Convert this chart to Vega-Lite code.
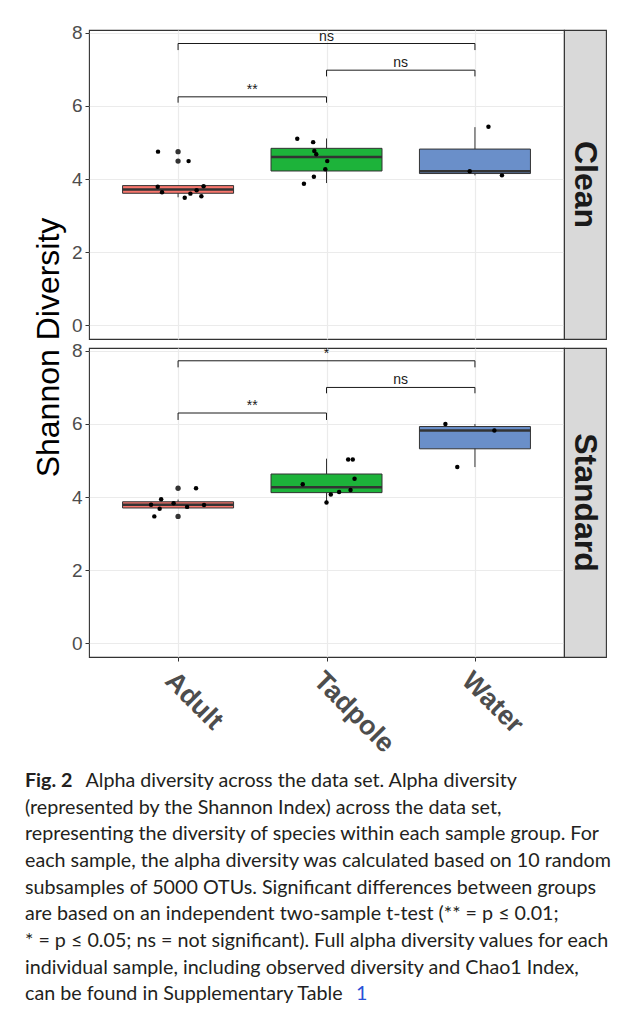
{
  "$schema": "https://vega.github.io/schema/vega-lite/v6.json",
  "background": "white",
  "padding": {"left": 25, "top": 23, "right": 5, "bottom": 5},
  "config": {
    "font": "Liberation Sans",
    "view": {"stroke": "#333333", "strokeWidth": 1.1},
    "axis": {"domain": false}
  },
  "datasets": {
    "boxes": [
      {"facet": "Clean", "group": "Adult", "lower": 3.50, "q1": 3.61, "median": 3.71, "q3": 3.82, "upper": 3.82},
      {"facet": "Clean", "group": "Tadpole", "lower": 3.89, "q1": 4.22, "median": 4.60, "q3": 4.84, "upper": 5.11},
      {"facet": "Clean", "group": "Water", "lower": 4.10, "q1": 4.15, "median": 4.21, "q3": 4.82, "upper": 5.42},
      {"facet": "Standard", "group": "Adult", "lower": 3.70, "q1": 3.70, "median": 3.79, "q3": 3.87, "upper": 3.93},
      {"facet": "Standard", "group": "Tadpole", "lower": 3.85, "q1": 4.12, "median": 4.27, "q3": 4.63, "upper": 5.05},
      {"facet": "Standard", "group": "Water", "lower": 4.82, "q1": 5.32, "median": 5.82, "q3": 5.93, "upper": 6.00}
    ],
    "points": [
      {"facet": "Clean", "group": "Adult", "jit": -0.135, "value": 4.75},
      {"facet": "Clean", "group": "Adult", "jit": 0.071, "value": 4.49},
      {"facet": "Clean", "group": "Adult", "jit": -0.137, "value": 3.79},
      {"facet": "Clean", "group": "Adult", "jit": -0.108, "value": 3.64},
      {"facet": "Clean", "group": "Adult", "jit": 0.045, "value": 3.49},
      {"facet": "Clean", "group": "Adult", "jit": 0.083, "value": 3.60},
      {"facet": "Clean", "group": "Adult", "jit": 0.125, "value": 3.69},
      {"facet": "Clean", "group": "Adult", "jit": 0.157, "value": 3.53},
      {"facet": "Clean", "group": "Adult", "jit": 0.172, "value": 3.80},
      {"facet": "Clean", "group": "Tadpole", "jit": -0.197, "value": 5.10},
      {"facet": "Clean", "group": "Tadpole", "jit": -0.090, "value": 5.01},
      {"facet": "Clean", "group": "Tadpole", "jit": -0.082, "value": 4.77},
      {"facet": "Clean", "group": "Tadpole", "jit": -0.069, "value": 4.68},
      {"facet": "Clean", "group": "Tadpole", "jit": 0.005, "value": 4.49},
      {"facet": "Clean", "group": "Tadpole", "jit": -0.008, "value": 4.27},
      {"facet": "Clean", "group": "Tadpole", "jit": -0.085, "value": 4.06},
      {"facet": "Clean", "group": "Tadpole", "jit": -0.152, "value": 3.87},
      {"facet": "Clean", "group": "Water", "jit": 0.091, "value": 5.43},
      {"facet": "Clean", "group": "Water", "jit": -0.035, "value": 4.21},
      {"facet": "Clean", "group": "Water", "jit": 0.182, "value": 4.10},
      {"facet": "Standard", "group": "Adult", "jit": 0.121, "value": 4.24},
      {"facet": "Standard", "group": "Adult", "jit": -0.114, "value": 3.94},
      {"facet": "Standard", "group": "Adult", "jit": -0.182, "value": 3.79},
      {"facet": "Standard", "group": "Adult", "jit": -0.124, "value": 3.68},
      {"facet": "Standard", "group": "Adult", "jit": -0.030, "value": 3.83},
      {"facet": "Standard", "group": "Adult", "jit": 0.061, "value": 3.73},
      {"facet": "Standard", "group": "Adult", "jit": 0.175, "value": 3.78},
      {"facet": "Standard", "group": "Adult", "jit": -0.160, "value": 3.47},
      {"facet": "Standard", "group": "Tadpole", "jit": -0.160, "value": 4.35},
      {"facet": "Standard", "group": "Tadpole", "jit": 0.000, "value": 3.85},
      {"facet": "Standard", "group": "Tadpole", "jit": 0.029, "value": 4.07},
      {"facet": "Standard", "group": "Tadpole", "jit": 0.085, "value": 4.14},
      {"facet": "Standard", "group": "Tadpole", "jit": 0.162, "value": 4.19},
      {"facet": "Standard", "group": "Tadpole", "jit": 0.189, "value": 4.50},
      {"facet": "Standard", "group": "Tadpole", "jit": 0.146, "value": 5.03},
      {"facet": "Standard", "group": "Tadpole", "jit": 0.177, "value": 5.03},
      {"facet": "Standard", "group": "Water", "jit": -0.199, "value": 6.00},
      {"facet": "Standard", "group": "Water", "jit": 0.131, "value": 5.82},
      {"facet": "Standard", "group": "Water", "jit": -0.119, "value": 4.82}
    ],
    "outliers": [
      {"facet": "Clean", "group": "Adult", "value": 4.75},
      {"facet": "Clean", "group": "Adult", "value": 4.49},
      {"facet": "Standard", "group": "Adult", "value": 4.24},
      {"facet": "Standard", "group": "Adult", "value": 3.47}
    ],
    "brackets": [
      {"facet": "Clean", "from": "Adult", "to": "Tadpole", "y": 6.25, "tip": 6.09, "label": "**", "mid": 0.5},
      {"facet": "Clean", "from": "Tadpole", "to": "Water", "y": 6.98, "tip": 6.81, "label": "ns", "mid": 0.5},
      {"facet": "Clean", "from": "Adult", "to": "Water", "y": 7.71, "tip": 7.53, "label": "ns", "mid": 1},
      {"facet": "Standard", "from": "Adult", "to": "Tadpole", "y": 6.30, "tip": 6.11, "label": "**", "mid": 0.5},
      {"facet": "Standard", "from": "Tadpole", "to": "Water", "y": 7.00, "tip": 6.84, "label": "ns", "mid": 0.5},
      {"facet": "Standard", "from": "Adult", "to": "Water", "y": 7.73, "tip": 7.55, "label": "*", "mid": 1}
    ],
    "caption": [
      {"line": 1, "kind": "bold", "text": "Fig. 2"},
      {"line": 1, "kind": "after", "text": "Alpha diversity across the data set. Alpha diversity"},
      {"line": 2, "kind": "plain", "text": "(represented by the Shannon Index) across the data set,"},
      {"line": 3, "kind": "plain", "text": "representing the diversity of species within each sample group. For"},
      {"line": 4, "kind": "plain", "text": "each sample, the alpha diversity was calculated based on 10 random"},
      {"line": 5, "kind": "plain", "text": "subsamples of 5000 OTUs. Significant differences between groups"},
      {"line": 6, "kind": "plain", "text": "are based on an independent two-sample t-test (** = p ≤ 0.01;"},
      {"line": 7, "kind": "plain", "text": "* = p ≤ 0.05; ns = not significant). Full alpha diversity values for each"},
      {"line": 8, "kind": "plain", "text": "individual sample, including observed diversity and Chao1 Index,"},
      {"line": 9, "kind": "plain", "text": "can be found in Supplementary Table"},
      {"line": 9, "kind": "link", "text": "1"}
    ]
  },
  "bounds": "flush",
  "columns": 2,
  "spacing": {"row": 9, "column": 0},
  "concat": [
    {
      "width": 475,
      "height": 309,
      "layer": [
        {
          "data": {"name": "boxes"},
          "transform": [{"filter": "datum.facet === 'Clean'"}],
          "mark": {"type": "rule", "color": "#333333", "strokeWidth": 1},
          "encoding": {
            "x": {"field": "group", "type": "nominal", "scale": {"type": "point", "domain": ["Adult", "Tadpole", "Water"], "padding": 0.6}, "axis": {"title": null, "labels": false, "ticks": false, "domain": false, "grid": true, "gridColor": "#EBEBEB", "gridWidth": 1.2}},
            "y": {"field": "lower", "type": "quantitative", "scale": {"domain": [-0.38, 8.08], "nice": false, "zero": false}, "axis": {"title": "Shannon Diversity", "values": [0, 1, 2, 3, 4, 5, 6, 7, 8], "labelExpr": "datum.value % 2 === 0 ? datum.label : ''", "tickOpacity": {"condition": {"test": "datum.value % 2 === 0", "value": 1}, "value": 0}, "gridColor": {"condition": {"test": "datum.value % 2 === 0", "value": "#EBEBEB"}, "value": "#F4F4F4"}, "gridWidth": {"condition": {"test": "datum.value % 2 === 0", "value": 1.2}, "value": 0.7}, "tickSize": 4, "tickColor": "#333333", "labelFontSize": 19, "labelColor": "#4D4D4D", "labelPadding": 3, "labelFlush": false, "labelOverlap": false, "domain": false, "titleFontSize": 32, "titleFontWeight": "normal", "titleColor": "#000000", "titleFont": "Liberation Sans", "titleAngle": 270, "titleBaseline": "middle", "titleX": -41, "titleY": 317}},
            "y2": {"field": "upper"}
          }
        },
        {
          "data": {"name": "boxes"},
          "transform": [{"filter": "datum.facet === 'Clean'"}],
          "mark": {"type": "bar", "size": 111, "stroke": "#333333", "strokeWidth": 1},
          "encoding": {
            "x": {"field": "group", "type": "nominal", "scale": {"type": "point", "domain": ["Adult", "Tadpole", "Water"], "padding": 0.6}},
            "y": {"field": "q1", "type": "quantitative", "scale": {"domain": [-0.38, 8.08], "nice": false, "zero": false}},
            "y2": {"field": "q3"},
            "fill": {"field": "group", "type": "nominal", "scale": {"domain": ["Adult", "Tadpole", "Water"], "range": ["#F8766D", "#1DB33A", "#6A8FC9"]}, "legend": null}
          }
        },
        {
          "data": {"name": "boxes"},
          "transform": [{"filter": "datum.facet === 'Clean'"}],
          "mark": {"type": "tick", "size": 111, "thickness": 2.5, "color": "#333333", "opacity": 1},
          "encoding": {
            "x": {"field": "group", "type": "nominal", "scale": {"type": "point", "domain": ["Adult", "Tadpole", "Water"], "padding": 0.6}},
            "y": {"field": "median", "type": "quantitative", "scale": {"domain": [-0.38, 8.08], "nice": false, "zero": false}}
          }
        },
        {
          "data": {"name": "outliers"},
          "transform": [{"filter": "datum.facet === 'Clean'"}],
          "mark": {"type": "point", "filled": true, "color": "#333333", "size": 28, "opacity": 1},
          "encoding": {
            "x": {"field": "group", "type": "nominal", "scale": {"type": "point", "domain": ["Adult", "Tadpole", "Water"], "padding": 0.6}},
            "y": {"field": "value", "type": "quantitative", "scale": {"domain": [-0.38, 8.08], "nice": false, "zero": false}}
          }
        },
        {
          "data": {"name": "points"},
          "transform": [{"filter": "datum.facet === 'Clean'"}],
          "mark": {"type": "point", "filled": true, "color": "#000000", "size": 20, "opacity": 1},
          "encoding": {
            "x": {"field": "group", "type": "nominal", "scale": {"type": "point", "domain": ["Adult", "Tadpole", "Water"], "padding": 0.6}},
            "xOffset": {"field": "jit", "type": "quantitative", "scale": {"domain": [-1, 1], "range": [-148.44, 148.44]}},
            "y": {"field": "value", "type": "quantitative", "scale": {"domain": [-0.38, 8.08], "nice": false, "zero": false}}
          }
        },
        {
          "data": {"name": "brackets"},
          "transform": [{"filter": "datum.facet === 'Clean'"}],
          "mark": {"type": "rule", "color": "#1A1A1A", "strokeWidth": 1},
          "encoding": {
            "x": {"field": "from", "type": "nominal", "scale": {"type": "point", "domain": ["Adult", "Tadpole", "Water"], "padding": 0.6}},
            "x2": {"field": "to"},
            "y": {"field": "y", "type": "quantitative", "scale": {"domain": [-0.38, 8.08], "nice": false, "zero": false}}
          }
        },
        {
          "data": {"name": "brackets"},
          "transform": [{"filter": "datum.facet === 'Clean'"}],
          "mark": {"type": "rule", "color": "#1A1A1A", "strokeWidth": 1},
          "encoding": {
            "x": {"field": "from", "type": "nominal", "scale": {"type": "point", "domain": ["Adult", "Tadpole", "Water"], "padding": 0.6}},
            "y": {"field": "y", "type": "quantitative", "scale": {"domain": [-0.38, 8.08], "nice": false, "zero": false}},
            "y2": {"field": "tip"}
          }
        },
        {
          "data": {"name": "brackets"},
          "transform": [{"filter": "datum.facet === 'Clean'"}],
          "mark": {"type": "rule", "color": "#1A1A1A", "strokeWidth": 1},
          "encoding": {
            "x": {"field": "to", "type": "nominal", "scale": {"type": "point", "domain": ["Adult", "Tadpole", "Water"], "padding": 0.6}},
            "y": {"field": "y", "type": "quantitative", "scale": {"domain": [-0.38, 8.08], "nice": false, "zero": false}},
            "y2": {"field": "tip"}
          }
        },
        {
          "data": {"name": "brackets"},
          "transform": [{"filter": "datum.facet === 'Clean'"}],
          "mark": {"type": "text", "baseline": "bottom", "align": "center", "fontSize": 14, "color": "#1A1A1A", "font": "Liberation Sans"},
          "encoding": {
            "x": {"field": "from", "type": "nominal", "scale": {"type": "point", "domain": ["Adult", "Tadpole", "Water"], "padding": 0.6}},
            "xOffset": {"field": "mid", "type": "quantitative", "scale": {"domain": [-1, 1], "range": [-148.44, 148.44]}},
            "y": {"field": "y", "type": "quantitative", "scale": {"domain": [-0.38, 8.08], "nice": false, "zero": false}},
            "text": {"field": "label"}
          }
        }
      ]
    },
    {
      "width": 42,
      "height": 309,
      "view": {"fill": "#D9D9D9", "stroke": "#333333", "strokeWidth": 1.1},
      "data": {"values": [{"facet": "Clean"}]},
      "mark": {"type": "text", "angle": 90, "fontSize": 32, "fontWeight": "bold", "color": "#1A1A1A", "font": "Liberation Sans"},
      "encoding": {"text": {"field": "facet"}}
    },
    {
      "width": 475,
      "height": 309,
      "layer": [
        {
          "data": {"name": "boxes"},
          "transform": [{"filter": "datum.facet === 'Standard'"}],
          "mark": {"type": "rule", "color": "#333333", "strokeWidth": 1},
          "encoding": {
            "x": {"field": "group", "type": "nominal", "scale": {"type": "point", "domain": ["Adult", "Tadpole", "Water"], "padding": 0.6}, "axis": {"title": null, "domain": false, "grid": true, "gridColor": "#EBEBEB", "gridWidth": 1.2, "ticks": true, "tickSize": 4, "tickColor": "#333333", "labelAngle": 45, "labelAlign": "left", "labelBaseline": "top", "labelFontSize": 27, "labelFontWeight": "bold", "labelColor": "#4D4D4D", "labelPadding": 6, "labelOverlap": false, "labelFont": "Liberation Sans"}},
            "y": {"field": "lower", "type": "quantitative", "scale": {"domain": [-0.38, 8.08], "nice": false, "zero": false}, "axis": {"title": null, "values": [0, 1, 2, 3, 4, 5, 6, 7, 8], "labelExpr": "datum.value % 2 === 0 ? datum.label : ''", "tickOpacity": {"condition": {"test": "datum.value % 2 === 0", "value": 1}, "value": 0}, "gridColor": {"condition": {"test": "datum.value % 2 === 0", "value": "#EBEBEB"}, "value": "#F4F4F4"}, "gridWidth": {"condition": {"test": "datum.value % 2 === 0", "value": 1.2}, "value": 0.7}, "tickSize": 4, "tickColor": "#333333", "labelFontSize": 19, "labelColor": "#4D4D4D", "labelPadding": 3, "labelFlush": false, "labelOverlap": false, "domain": false}},
            "y2": {"field": "upper"}
          }
        },
        {
          "data": {"name": "boxes"},
          "transform": [{"filter": "datum.facet === 'Standard'"}],
          "mark": {"type": "bar", "size": 111, "stroke": "#333333", "strokeWidth": 1},
          "encoding": {
            "x": {"field": "group", "type": "nominal", "scale": {"type": "point", "domain": ["Adult", "Tadpole", "Water"], "padding": 0.6}},
            "y": {"field": "q1", "type": "quantitative", "scale": {"domain": [-0.38, 8.08], "nice": false, "zero": false}},
            "y2": {"field": "q3"},
            "fill": {"field": "group", "type": "nominal", "scale": {"domain": ["Adult", "Tadpole", "Water"], "range": ["#F8766D", "#1DB33A", "#6A8FC9"]}, "legend": null}
          }
        },
        {
          "data": {"name": "boxes"},
          "transform": [{"filter": "datum.facet === 'Standard'"}],
          "mark": {"type": "tick", "size": 111, "thickness": 2.5, "color": "#333333", "opacity": 1},
          "encoding": {
            "x": {"field": "group", "type": "nominal", "scale": {"type": "point", "domain": ["Adult", "Tadpole", "Water"], "padding": 0.6}},
            "y": {"field": "median", "type": "quantitative", "scale": {"domain": [-0.38, 8.08], "nice": false, "zero": false}}
          }
        },
        {
          "data": {"name": "outliers"},
          "transform": [{"filter": "datum.facet === 'Standard'"}],
          "mark": {"type": "point", "filled": true, "color": "#333333", "size": 28, "opacity": 1},
          "encoding": {
            "x": {"field": "group", "type": "nominal", "scale": {"type": "point", "domain": ["Adult", "Tadpole", "Water"], "padding": 0.6}},
            "y": {"field": "value", "type": "quantitative", "scale": {"domain": [-0.38, 8.08], "nice": false, "zero": false}}
          }
        },
        {
          "data": {"name": "points"},
          "transform": [{"filter": "datum.facet === 'Standard'"}],
          "mark": {"type": "point", "filled": true, "color": "#000000", "size": 20, "opacity": 1},
          "encoding": {
            "x": {"field": "group", "type": "nominal", "scale": {"type": "point", "domain": ["Adult", "Tadpole", "Water"], "padding": 0.6}},
            "xOffset": {"field": "jit", "type": "quantitative", "scale": {"domain": [-1, 1], "range": [-148.44, 148.44]}},
            "y": {"field": "value", "type": "quantitative", "scale": {"domain": [-0.38, 8.08], "nice": false, "zero": false}}
          }
        },
        {
          "data": {"name": "brackets"},
          "transform": [{"filter": "datum.facet === 'Standard'"}],
          "mark": {"type": "rule", "color": "#1A1A1A", "strokeWidth": 1},
          "encoding": {
            "x": {"field": "from", "type": "nominal", "scale": {"type": "point", "domain": ["Adult", "Tadpole", "Water"], "padding": 0.6}},
            "x2": {"field": "to"},
            "y": {"field": "y", "type": "quantitative", "scale": {"domain": [-0.38, 8.08], "nice": false, "zero": false}}
          }
        },
        {
          "data": {"name": "brackets"},
          "transform": [{"filter": "datum.facet === 'Standard'"}],
          "mark": {"type": "rule", "color": "#1A1A1A", "strokeWidth": 1},
          "encoding": {
            "x": {"field": "from", "type": "nominal", "scale": {"type": "point", "domain": ["Adult", "Tadpole", "Water"], "padding": 0.6}},
            "y": {"field": "y", "type": "quantitative", "scale": {"domain": [-0.38, 8.08], "nice": false, "zero": false}},
            "y2": {"field": "tip"}
          }
        },
        {
          "data": {"name": "brackets"},
          "transform": [{"filter": "datum.facet === 'Standard'"}],
          "mark": {"type": "rule", "color": "#1A1A1A", "strokeWidth": 1},
          "encoding": {
            "x": {"field": "to", "type": "nominal", "scale": {"type": "point", "domain": ["Adult", "Tadpole", "Water"], "padding": 0.6}},
            "y": {"field": "y", "type": "quantitative", "scale": {"domain": [-0.38, 8.08], "nice": false, "zero": false}},
            "y2": {"field": "tip"}
          }
        },
        {
          "data": {"name": "brackets"},
          "transform": [{"filter": "datum.facet === 'Standard'"}],
          "mark": {"type": "text", "baseline": "bottom", "align": "center", "fontSize": 14, "color": "#1A1A1A", "font": "Liberation Sans"},
          "encoding": {
            "x": {"field": "from", "type": "nominal", "scale": {"type": "point", "domain": ["Adult", "Tadpole", "Water"], "padding": 0.6}},
            "xOffset": {"field": "mid", "type": "quantitative", "scale": {"domain": [-1, 1], "range": [-148.44, 148.44]}},
            "y": {"field": "y", "type": "quantitative", "scale": {"domain": [-0.38, 8.08], "nice": false, "zero": false}},
            "text": {"field": "label"}
          }
        }
      ]
    },
    {
      "width": 42,
      "height": 309,
      "view": {"fill": "#D9D9D9", "stroke": "#333333", "strokeWidth": 1.1},
      "data": {"values": [{"facet": "Standard"}]},
      "mark": {"type": "text", "angle": 90, "fontSize": 32, "fontWeight": "bold", "color": "#1A1A1A", "font": "Liberation Sans"},
      "encoding": {"text": {"field": "facet"}}
    },
    {
      "width": 475,
      "height": 328,
      "view": {"stroke": null},
      "data": {"name": "caption"},
      "encoding": {
        "x": {"datum": 0, "type": "quantitative", "scale": {"domain": [0, 1]}, "axis": null},
        "y": {"field": "line", "type": "quantitative", "scale": {"domain": [-3.312, 8.987], "reverse": true, "nice": false, "zero": false}, "axis": null},
        "text": {"field": "text"}
      },
      "layer": [
        {"transform": [{"filter": "datum.kind === 'bold'"}], "mark": {"type": "text", "align": "left", "baseline": "middle", "dx": -64, "font": "Lato", "fontSize": 19.7, "fontWeight": "bold", "color": "#231F20"}},
        {"transform": [{"filter": "datum.kind === 'after'"}], "mark": {"type": "text", "align": "left", "baseline": "middle", "dx": -3.5, "font": "Lato", "fontSize": 19.7, "color": "#231F20"}},
        {"transform": [{"filter": "datum.kind === 'plain'"}], "mark": {"type": "text", "align": "left", "baseline": "middle", "dx": -64, "font": "Lato", "fontSize": 19.7, "color": "#231F20"}},
        {"transform": [{"filter": "datum.kind === 'link'"}], "mark": {"type": "text", "align": "left", "baseline": "middle", "dx": 267, "font": "Lato", "fontSize": 19.7, "color": "#2950D8"}}
      ]
    }
  ]
}
